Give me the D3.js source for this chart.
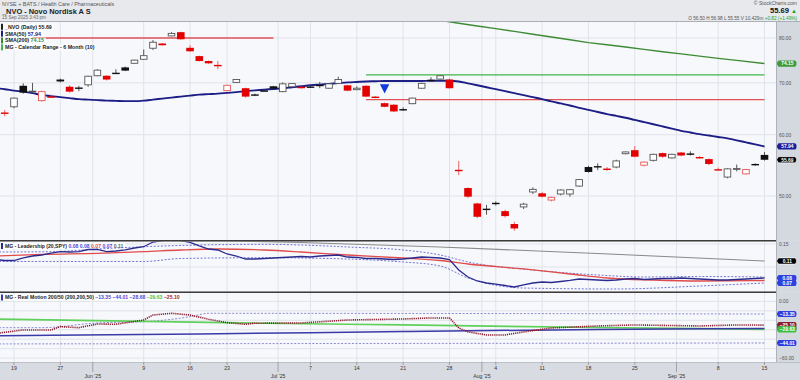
<!DOCTYPE html>
<html><head><meta charset="utf-8">
<script src="https://cdn.jsdelivr.net/npm/d3@7"></script>
<style>body{margin:0;background:#d9dce2}svg{display:block;font-family:"Liberation Sans",Arial,sans-serif}</style>
</head><body><svg id="c" width="800" height="380"></svg>
<script>
// ---------------- DATA ----------------
const dates = ["2025-05-15","2025-05-16","2025-05-19","2025-05-20","2025-05-21","2025-05-22","2025-05-23","2025-05-27","2025-05-28","2025-05-29","2025-05-30","2025-06-02","2025-06-03","2025-06-04","2025-06-05","2025-06-06","2025-06-09","2025-06-10","2025-06-11","2025-06-12","2025-06-13","2025-06-16","2025-06-17","2025-06-18","2025-06-20","2025-06-23","2025-06-24","2025-06-25","2025-06-26","2025-06-27","2025-06-30","2025-07-01","2025-07-02","2025-07-03","2025-07-07","2025-07-08","2025-07-09","2025-07-10","2025-07-11","2025-07-14","2025-07-15","2025-07-16","2025-07-17","2025-07-18","2025-07-21","2025-07-22","2025-07-23","2025-07-24","2025-07-25","2025-07-28","2025-07-29","2025-07-30","2025-07-31","2025-08-01","2025-08-04","2025-08-05","2025-08-06","2025-08-07","2025-08-08","2025-08-11","2025-08-12","2025-08-13","2025-08-14","2025-08-15","2025-08-18","2025-08-19","2025-08-20","2025-08-21","2025-08-22","2025-08-25","2025-08-26","2025-08-27","2025-08-28","2025-08-29","2025-09-02","2025-09-03","2025-09-04","2025-09-05","2025-09-08","2025-09-09","2025-09-10","2025-09-11","2025-09-12","2025-09-15"];
const open  = [64.8,64.1,65.2,69.4,68.2,66.4,67.25,70.7,69.2,69.05,69.6,71.5,71.5,72.15,73.3,74.2,75.1,77.6,78.7,80.5,81.4,77.7,75.8,74.7,73.85,68.4,70.1,68.9,67.65,68.45,69.3,68.2,69.2,69.2,69.25,69.6,68.9,69.9,69.5,68.6,69.4,67.2,65.9,65.6,64.75,65.8,68.9,70.65,70.8,70.7,54.05,51.2,48.9,48.15,49.0,47.8,46.0,48.4,50.6,50.4,49.4,50.3,50.3,51.5,54.5,54.65,54.25,54.5,56.7,57.3,54.8,55.6,56.8,56.0,56.9,56.75,56.15,55.8,54.15,52.9,54.2,53.4,55.0,56.50];
const high  = [65.8,64.6,67.0,69.9,70.0,68.4,67.6,70.9,69.5,69.4,71.5,72.9,71.6,72.9,73.5,75.0,77.3,79.5,78.8,81.4,81.5,78.3,75.9,74.8,74.7,69.6,70.8,69.0,67.8,68.6,69.4,70.1,69.9,69.3,69.4,70.2,69.9,71.3,69.6,69.3,69.5,67.3,66.0,65.7,65.1,67.0,70.0,71.2,71.6,70.9,55.5,51.3,49.0,48.7,49.2,48.0,46.3,49.0,51.3,50.6,49.9,51.0,51.0,52.6,54.7,55.1,54.5,55.7,57.1,58.0,55.4,56.7,56.9,56.7,57.0,57.1,56.3,55.9,54.4,54.3,54.9,54.2,55.1,56.98];
const low   = [64.3,63.4,64.9,67.8,68.1,66.2,66.9,70.1,68.0,68.3,69.2,71.4,70.5,72.0,72.5,74.1,75.0,77.2,78.2,80.4,79.6,76.8,74.6,74.1,72.9,68.3,70.0,67.0,67.3,68.3,68.7,68.1,69.1,68.8,69.0,68.9,68.8,69.8,68.3,68.5,67.1,66.9,65.1,64.2,64.4,65.7,68.8,70.2,70.7,68.8,53.2,49.7,46.8,47.3,48.6,46.9,45.1,48.1,50.3,49.8,49.2,50.1,49.9,51.4,53.6,54.0,53.9,54.3,56.6,56.1,54.6,55.4,56.0,55.9,56.3,56.4,55.9,54.8,54.0,52.7,53.8,53.3,54.7,55.55];
const close = [65.3,64.0,66.9,68.0,68.3,68.2,67.15,70.3,68.2,68.95,71.4,72.7,70.7,72.1,72.6,74.9,75.9,79.0,78.3,81.1,79.7,76.9,74.7,74.2,73.8,69.5,70.7,67.2,67.6,68.4,68.8,69.8,69.85,68.9,69.2,69.55,69.8,70.7,68.4,68.9,67.2,67.0,65.2,64.3,64.7,66.9,69.9,70.6,71.5,68.9,54.0,49.9,47.0,48.1,48.8,47.1,45.4,48.8,51.0,49.9,49.8,50.9,50.95,52.5,53.7,54.6,54.2,55.5,57.0,56.2,55.3,56.6,56.2,56.6,56.4,56.7,56.1,55.0,54.1,54.2,54.25,54.1,54.87,55.69];
const sma50 = [68.9,68.7,68.4,68.2,67.9,67.5,67.3,67.1,66.9,66.7,66.6,66.5,66.4,66.35,66.3,66.3,66.4,66.6,66.8,67.0,67.2,67.4,67.6,67.7,67.8,67.95,68.1,68.3,68.45,68.6,68.75,68.9,69.1,69.3,69.5,69.65,69.8,69.95,70.1,70.2,70.3,70.35,70.4,70.4,70.4,70.4,70.4,70.45,70.45,70.45,70.3,69.9,69.5,69.1,68.7,68.3,67.9,67.5,67.1,66.7,66.25,65.85,65.45,65.0,64.6,64.2,63.8,63.45,63.1,62.7,62.3,61.9,61.5,61.1,60.7,60.4,60.1,59.85,59.6,59.35,59.0,58.65,58.3,57.94];
const sma200K = [44,46,48,50,52,54,56,58,60,62,64,66,68,70,72,74,76,78,80,83];
const sma200V = [85.6,84.9,84.3,83.6,82.9,82.25,81.6,80.9,80.25,79.6,78.9,78.4,77.9,77.35,76.8,76.3,75.8,75.3,74.85,74.15];
const calStartK = [4,40], calEndK = [30,83], calHigh = [null,71.7], calLow = [80.0,66.6];
const markK = [42], markV = [68.8];
const priceTicks = [50,60,70,80];

const leadLine = [0.1163,0.1141,0.1141,0.1196,0.1239,0.1261,0.1304,0.1333,0.1326,0.1333,0.138,0.1385,0.1333,0.1348,0.137,0.1413,0.1441,0.1543,0.1576,0.1598,0.1576,0.1537,0.1457,0.1391,0.137,0.1283,0.1239,0.1174,0.1174,0.1185,0.1196,0.1207,0.1217,0.1228,0.1217,0.1239,0.125,0.1261,0.1217,0.1207,0.1185,0.1185,0.1174,0.1163,0.1174,0.1196,0.1217,0.1207,0.1196,0.1163,0.0935,0.0783,0.0696,0.0652,0.063,0.0598,0.0565,0.0609,0.0652,0.0674,0.0663,0.0685,0.0707,0.0739,0.0728,0.0717,0.0707,0.0717,0.0739,0.075,0.0728,0.0739,0.075,0.075,0.0761,0.075,0.0739,0.0728,0.0717,0.0717,0.0728,0.0739,0.075,0.0761];
const leadMaK = [0,5,11,16,20,24,29,33,38,44,48,51,57,62,66,71,76,83];
const leadMaV = [0.1239,0.1276,0.1298,0.1333,0.137,0.1391,0.137,0.1326,0.1261,0.1196,0.1141,0.1065,0.0957,0.0848,0.0761,0.0717,0.0696,0.0707];
const leadUpK = [0,6,11,16,22,29,33,38,44,48,51,58,65,70,76,83];
const leadUpV = [0.1326,0.1333,0.1391,0.1441,0.1478,0.1493,0.1478,0.1435,0.137,0.1261,0.1109,0.0935,0.0826,0.0783,0.0793,0.0783];
const leadLoK = [0,16,20,29,33,44,48,51,57,67,76,83];
const leadLoV = [0.112,0.112,0.1185,0.1202,0.1196,0.1109,0.1022,0.0761,0.0543,0.0522,0.0587,0.0652];
const leadGrK = [17,22,33,48,65,83];
const leadGrV = [0.162,0.1587,0.1533,0.1435,0.1293,0.113];
const leadTicks = [0.10,0.15];

const rmRedK = [0,3,6,7,9,11,13,15,16,17,19,21,23,25,27,28,33,38,44,47,49,50,51,53,55,57,60,65,69,76,80,83];
const rmRedV = [-33.9,-30.2,-30.2,-26.7,-27.8,-23.9,-24.2,-21.2,-19.7,-14.4,-12.6,-14.4,-18.9,-22.5,-24.2,-23.1,-22.8,-19.7,-18.6,-17.5,-17.5,-28.1,-32.3,-35.5,-35.5,-32.3,-28.1,-26.0,-24.9,-26.0,-24.9,-25.10];
const rmGreenK = [0,29,44,65,83];
const rmGreenV = [-18.6,-23.1,-24.9,-27.6,-29.63];
const rmNavyK = [0,22,44,65,83];
const rmNavyV = [-36.3,-34.5,-31.8,-29.7,-28.68];
const rmUpK = [0,5,11,16,21,23,50,83];
const rmUpV = [-27.8,-27.8,-22.8,-21.5,-16.2,-12.6,-12.8,-13.35];
const rmLoK = [0,83];
const rmLoV = [-45.0,-44.01];
const rmTicks = [0,-10,-20,-30,-40,-50,-60];

const dayTicks = ["2025-05-19","2025-05-27","2025-06-09","2025-06-16","2025-06-23","2025-07-07","2025-07-14","2025-07-21","2025-07-28","2025-08-04","2025-08-11","2025-08-18","2025-08-25","2025-09-08","2025-09-15"];
const monthTicks = ["2025-06","2025-07","2025-08","2025-09"];
const monthLabels = ["Jun '25","Jul '25","Aug '25","Sep '25"];
const volumeText = "10.429m";
const stampText = "15 Sep 2025 3:43 pm";

// ---------------- LAYOUT ----------------
const svg = d3.select('#c');
const R = 776;
const P = {main:[22,240], mid:[241.5,291.5], bot:[293,362]};
const x = d3.scaleLinear().domain([2,83]).range([14,764.5]);
const yP = d3.scaleLog().domain([50,80]).range([196,38]);
const yL = d3.scaleLinear().domain([0.10,0.15]).range([267,244]);
const yR = d3.scaleLinear().domain([0,-40]).range([301.4,339.2]);
const f2 = d3.format(".2f");
const last = a => a[a.length-1];

svg.append('rect').attr('width',800).attr('height',380).attr('fill','#d8dbe1');
svg.append('rect').attr('width',800).attr('height',21.5).attr('fill','#e7e9ed');
const defs = svg.append('defs');
Object.entries(P).forEach(([k,[t,b]])=>{
  defs.append('clipPath').attr('id','clip-'+k).append('rect').attr('x',0).attr('y',t).attr('width',R).attr('height',b-t);
  svg.append('rect').attr('x',0).attr('y',t).attr('width',R).attr('height',b-t).attr('fill','#f7f8fb');
  svg.append('rect').attr('x',R).attr('y',t).attr('width',800-R).attr('height',b-t).attr('fill','#d4d8df');
});
svg.append('line').attr('x1',0).attr('x2',800).attr('y1',21.5).attr('y2',21.5).attr('stroke','#9ca2ab').attr('stroke-width',0.8);

// vertical grid
const kOf = d => dates.indexOf(d);
const monthPos = monthTicks.map(m => dates.findIndex(d => d.startsWith(m)) - 0.5);
const gridX = dayTicks.map(kOf).concat(monthPos);
gridX.forEach(k=>{
  svg.append('line').attr('x1',x(k)).attr('x2',x(k)).attr('y1',22).attr('y2',362)
    .attr('stroke','#e0e3e9').attr('stroke-width',1);
});
priceTicks.forEach(v=>{
  svg.append('line').attr('x1',0).attr('x2',R).attr('y1',yP(v)).attr('y2',yP(v)).attr('stroke','#e0e3e9');
});
leadTicks.forEach(v=>{
  svg.append('line').attr('x1',0).attr('x2',R).attr('y1',yL(v)).attr('y2',yL(v)).attr('stroke','#e0e3e9');
});
rmTicks.forEach(v=>{
  if (yR(v)>P.bot[0] && yR(v)<P.bot[1]) svg.append('line').attr('x1',0).attr('x2',R).attr('y1',yR(v)).attr('y2',yR(v)).attr('stroke','#e0e3e9');
});

// axis label helper: skip labels hidden behind tags
function axisLabels(ticks, scale, tagYs){
  ticks.forEach(v=>{
    const y = scale(v);
    if (tagYs.some(t=>Math.abs(t-y)<6.5)) return;
    svg.append('text').attr('x',779).attr('y',y+1.8).attr('font-size',4.9).attr('fill','#555').text(f2(v));
  });
}
function tag(y, txt, bg, fg, stroke){
  const h=6.2, w=16;
  const g = svg.append('g');
  g.append('path').attr('d',`M776.5,${y} L778.5,${y-h/2} L${778.5+w},${y-h/2} Q${780.5+w},${y-h/2} ${780.5+w},${y} Q${780.5+w},${y+h/2} ${778.5+w},${y+h/2} L778.5,${y+h/2} Z`)
    .attr('fill',bg).attr('stroke',stroke||'none').attr('stroke-width',0.6);
  g.append('text').attr('x',779.3+w/2).attr('y',y+1.8).attr('text-anchor','middle').attr('font-size',4.9).attr('font-weight','bold').attr('fill',fg||'#fff').text(txt);
}

// ---------------- MAIN PANEL ----------------
const gm = svg.append('g').attr('clip-path','url(#clip-main)');
const lineP = d3.line().x(d=>x(d[0])).y(d=>yP(d[1]));
calStartK.forEach((s,i)=>{
  if (calHigh[i]!=null) gm.append('path').attr('d',lineP([[s,calHigh[i]],[calEndK[i],calHigh[i]]])).attr('stroke','#3fb44a').attr('stroke-width',1.3).attr('fill','none');
  if (calLow[i]!=null) gm.append('path').attr('d',lineP([[s,calLow[i]],[calEndK[i],calLow[i]]])).attr('stroke','#e0525a').attr('stroke-width',1.3).attr('fill','none');
});
gm.append('path').attr('d',lineP(sma200K.map((k,i)=>[k,sma200V[i]]))).attr('fill','none').attr('stroke','#3d8b35').attr('stroke-width',1.4);
gm.append('path').attr('d',d3.line().curve(d3.curveMonotoneX).x((d,i)=>x(i)).y(d=>yP(d))(sma50)).attr('fill','none').attr('stroke','#1d1d86').attr('stroke-width',1.9);
const bw = 7.6;
close.forEach((c,i)=>{
  const o = open[i], prev = i>0 ? close[i-1] : o;
  const up = c >= prev;
  const col = up ? '#111' : '#e30000';
  const cx = x(i);
  const g = gm.append('g');
  const top = yP(Math.max(o,c)), bot = yP(Math.min(o,c));
  const hollow = c >= o;
  g.append('line').attr('x1',cx).attr('x2',cx).attr('y1',yP(high[i])).attr('y2',yP(low[i]))
    .attr('stroke', up ? '#444' : '#e85555').attr('stroke-width',0.9);
  if (hollow) {
    g.append('rect').attr('x',cx-bw/2+0.5).attr('y',top).attr('width',bw-1).attr('height',Math.max(bot-top,0.8))
      .attr('fill','#fff').attr('stroke', up ? '#555' : '#e85555').attr('stroke-width',0.9);
  } else {
    g.append('rect').attr('x',cx-bw/2).attr('y',top).attr('width',bw).attr('height',Math.max(bot-top,1.4))
      .attr('fill',col);
  }
});
markK.forEach((k,i)=>{
  const cx=x(k), cy=yP(markV[i]);
  gm.append('path').attr('d',`M${cx-4.7},${cy-4.5} L${cx+4.7},${cy-4.5} L${cx},${cy+4.8} Z`).attr('fill','#1238e0');
});

const leg = [
  {c:'#222', parts:[['_NVO (Daily) ','#222'],[f2(last(close)),'#222']]},
  {c:'#1d1d86', parts:[['SMA(50) ','#222'],[f2(last(sma50)),'#1d1d86']]},
  {c:'#3d8b35', parts:[['SMA(200) ','#222'],[f2(last(sma200V)),'#3d8b35']]},
  {c:'#3fb44a', parts:[['MG - Calendar Range - 6 Month (10)','#222']]}
];
leg.forEach((r,i)=>{
  const y = 26.8 + i*6.85;
  const t = svg.append('text').attr('x',5).attr('y',y+1.9).attr('font-size',5.3).attr('font-weight','bold');
  r.parts.forEach(p=>t.append('tspan').attr('fill',p[1]).text(p[0]));
  const w = t.node().getComputedTextLength();
  svg.insert('rect','text').attr('x',3).attr('y',y-3).attr('width',w+4).attr('height',6).attr('fill','#ffffff').attr('opacity',0.75);
  svg.append('rect').attr('x',1).attr('y',y-3).attr('width',2).attr('height',6).attr('fill',r.c);
});

const mainTags = [[last(sma200V),'#3d9b3a',null],[last(sma50),'#1d1d9a',null],[last(close),'#000','#fff']];
axisLabels(priceTicks, yP, mainTags.map(t=>yP(t[0])));
mainTags.forEach(t=>tag(yP(t[0]), f2(t[0]), t[1], '#fff', t[2]));

// ---------------- MIDDLE PANEL ----------------
const gl = svg.append('g').attr('clip-path','url(#clip-mid)');
const lineL = d3.line().curve(d3.curveMonotoneX).x(d=>x(d[0])).y(d=>yL(d[1]));
const zipK = (K,V)=>K.map((k,i)=>[k,V[i]]);
gl.append('path').attr('d',lineL(zipK(leadGrK,leadGrV))).attr('fill','none').attr('stroke','#8a8a8a').attr('stroke-width',1.1);
gl.append('path').attr('d',lineL(zipK(leadUpK,leadUpV))).attr('fill','none').attr('stroke','#7474d4').attr('stroke-width',1).attr('stroke-dasharray','2,1.6');
gl.append('path').attr('d',lineL(zipK(leadLoK,leadLoV))).attr('fill','none').attr('stroke','#7474d4').attr('stroke-width',1).attr('stroke-dasharray','2,1.6');
gl.append('path').attr('d',lineL(zipK(leadMaK,leadMaV))).attr('fill','none').attr('stroke','#e04b4b').attr('stroke-width',1.3);
gl.append('path').attr('d',d3.line().x((d,i)=>x(i)).y(d=>yL(d))(leadLine)).attr('fill','none').attr('stroke','#2b2b8e').attr('stroke-width',1.3);
{
  const y=246;
  const t = svg.append('text').attr('x',5).attr('y',y+1.9).attr('font-size',5.1).attr('font-weight','bold');
  t.append('tspan').attr('fill','#222').text('MG - Leadership (20,SPY) ');
  t.append('tspan').attr('fill','#4a4ad8').text(f2(last(leadLine))+' '+f2(last(leadUpV))+' ');
  t.append('tspan').attr('fill','#e04b4b').text(f2(last(leadMaV))+' ');
  t.append('tspan').attr('fill','#4a4ad8').text(f2(last(leadLoV))+' ');
  t.append('tspan').attr('fill','#666').text(f2(last(leadGrV)));
  const w=t.node().getComputedTextLength();
  svg.insert('rect','text').attr('x',3).attr('y',y-3).attr('width',w+4).attr('height',6).attr('fill','#fff').attr('opacity',0.75);
  svg.append('rect').attr('x',1).attr('y',y-3).attr('width',2).attr('height',6).attr('fill','#2b2b8e');
}
const midTags = [[last(leadGrV),'#000','#fff'],[last(leadLine),'#2f3fe0',null],[last(leadLoV),'#2f3fe0',null]];
axisLabels(leadTicks, yL, midTags.map(t=>yL(t[0])));
midTags.forEach(t=>tag(yL(t[0]), f2(t[0]), t[1], '#fff', t[2]));

// ---------------- BOTTOM PANEL ----------------
const gb = svg.append('g').attr('clip-path','url(#clip-bot)');
const lineR = d3.line().curve(d3.curveMonotoneX).x(d=>x(d[0])).y(d=>yR(d[1]));
gb.append('path').attr('d',lineR(zipK(rmUpK,rmUpV))).attr('fill','none').attr('stroke','#8a8ad0').attr('stroke-width',1).attr('stroke-dasharray','2,1.6');
gb.append('path').attr('d',lineR(zipK(rmLoK,rmLoV))).attr('fill','none').attr('stroke','#8a8ad0').attr('stroke-width',1).attr('stroke-dasharray','2,1.6');
gb.append('path').attr('d',lineR(zipK(rmGreenK,rmGreenV))).attr('fill','none').attr('stroke','#5fd05a').attr('stroke-width',1.7);
gb.append('path').attr('d',lineR(zipK(rmNavyK,rmNavyV))).attr('fill','none').attr('stroke','#3a3aa8').attr('stroke-width',1.5);
gb.append('path').attr('d',d3.line().x(d=>x(d[0])).y(d=>yR(d[1]))(zipK(rmRedK,rmRedV))).attr('fill','none').attr('stroke','#8c1c30').attr('stroke-width',1.6).attr('stroke-dasharray','1.2,0.9');
{
  const y=297.5;
  const t = svg.append('text').attr('x',5).attr('y',y+1.9).attr('font-size',5.1).attr('font-weight','bold');
  t.append('tspan').attr('fill','#222').text('MG - Real Motion 200/50 (200,200,50) ');
  t.append('tspan').attr('fill','#4a4ad8').text(f2(last(rmUpV))+' '+f2(last(rmLoV))+' '+f2(last(rmNavyV))+' ');
  t.append('tspan').attr('fill','#4fc24a').text(f2(last(rmGreenV))+' ');
  t.append('tspan').attr('fill','#a02040').text(f2(last(rmRedV)));
  const w=t.node().getComputedTextLength();
  svg.insert('rect','text').attr('x',3).attr('y',y-3).attr('width',w+4).attr('height',6).attr('fill','#fff').attr('opacity',0.75);
  svg.append('rect').attr('x',1).attr('y',y-3).attr('width',2).attr('height',6).attr('fill','#3a3aa8');
}
const botTags = [[last(rmNavyV),'#2a2a9a'],[last(rmUpV),'#2f3fe0'],[last(rmRedV),'#8c1c30'],[last(rmGreenV),'#3cc03c'],[last(rmLoV),'#2f3fe0']];
axisLabels(rmTicks, yR, botTags.map(t=>yR(t[0])));
botTags.forEach(t=>tag(yR(t[0]), f2(t[0]), t[1], '#fff', null));

// separators & frame
svg.append('rect').attr('x',0).attr('y',240).attr('width',R).attr('height',1.5).attr('fill','#3c3c3c');
svg.append('rect').attr('x',0).attr('y',291.5).attr('width',R).attr('height',1.5).attr('fill','#3c3c3c');
svg.append('line').attr('x1',R+0.5).attr('x2',R+0.5).attr('y1',22).attr('y2',362).attr('stroke','#aeb3bb').attr('stroke-width',1);
svg.append('line').attr('x1',0).attr('x2',800).attr('y1',362.5).attr('y2',362.5).attr('stroke','#b5bac2').attr('stroke-width',0.8);

// ---------------- X AXIS ----------------
dayTicks.forEach(d=>{
  const k = kOf(d), px = x(k);
  svg.append('line').attr('x1',px).attr('x2',px).attr('y1',362).attr('y2',365).attr('stroke','#888').attr('stroke-width',0.7);
  svg.append('text').attr('x',px).attr('y',369.5).attr('text-anchor','middle').attr('font-size',5.2).attr('fill','#333').text(+d.slice(8));
});
monthPos.forEach((k,i)=>{
  const px = x(k);
  svg.append('line').attr('x1',px).attr('x2',px).attr('y1',362).attr('y2',372).attr('stroke','#888').attr('stroke-width',0.7);
  svg.append('text').attr('x',px).attr('y',377.5).attr('text-anchor','middle').attr('font-size',5.2).attr('fill','#333').text(monthLabels[i]);
});

// ---------------- HEADER ----------------
svg.append('text').attr('x',2).attr('y',6).attr('font-size',5.4).attr('fill','#555').text('NYSE + BATS / Health Care / Pharmaceuticals');
svg.append('text').attr('x',2).attr('y',13.6).attr('font-size',7.4).attr('font-weight','bold').attr('fill','#222').text('_NVO - Novo Nordisk A S');
svg.append('text').attr('x',2).attr('y',19.4).attr('font-size',4.6).attr('fill','#666').text(stampText);
svg.append('text').attr('x',797).attr('y',5.2).attr('text-anchor','end').attr('font-size',5).attr('fill','#555').text('© StockCharts.com');
const chg = last(close)-close[close.length-2];
{
  const t = svg.append('text').attr('x',797).attr('y',13.4).attr('text-anchor','end').attr('font-size',7.6).attr('font-weight','bold');
  t.append('tspan').attr('fill','#111').text(f2(last(close))+' ');
  t.append('tspan').attr('fill','#2aa02a').attr('font-size',6).text(chg>=0?'▲':'▼');
  const t2 = svg.append('text').attr('x',797).attr('y',20).attr('text-anchor','end').attr('font-size',4.7).attr('fill','#555');
  t2.append('tspan').text(`O ${f2(last(open))}   H ${f2(last(high))}   L ${f2(last(low))}   V ${volumeText}  `);
  t2.append('tspan').attr('fill','#2aa02a').text(`${chg>=0?'+':''}${f2(chg)} (${chg>=0?'+':''}${f2(chg/close[close.length-2]*100)}%)`);
}
</script></body></html>
